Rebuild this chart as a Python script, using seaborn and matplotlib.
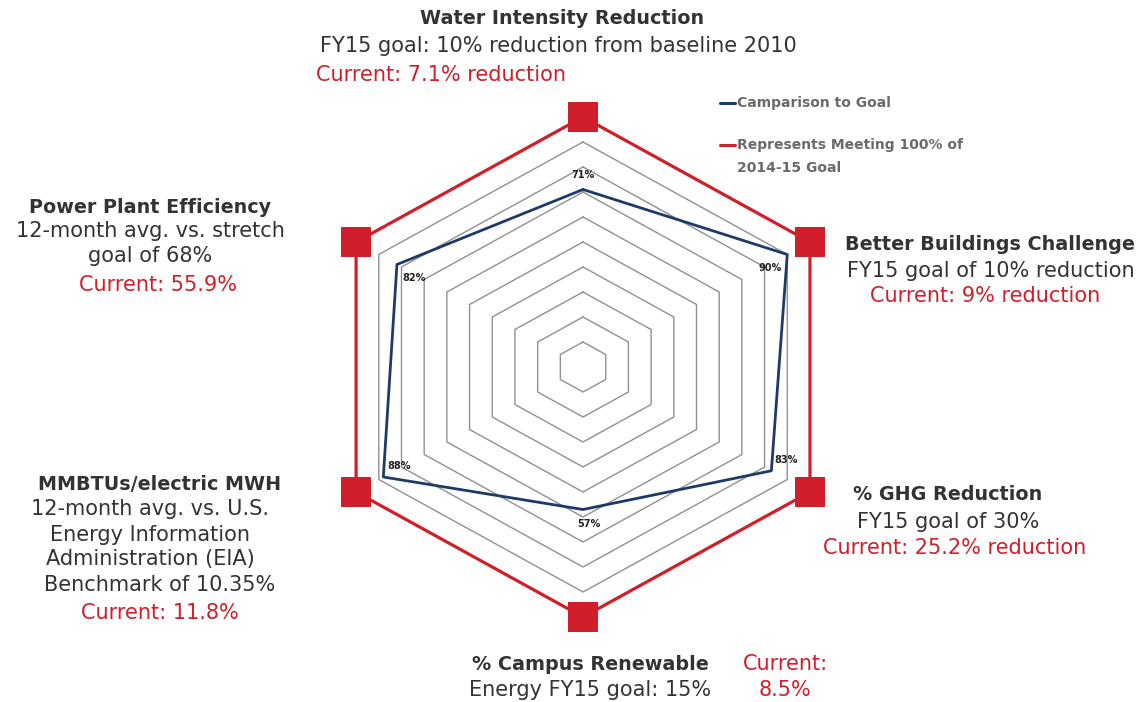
import numpy as np
import pandas as pd
import matplotlib.pyplot as plt
import seaborn as sns
from matplotlib.lines import Line2D

# clockwise from the top
metrics = ['Water Intensity Reduction', 'Better Buildings Challenge', '% GHG Reduction',
           '% Campus Renewable', 'MMBTUs/electric MWH', 'Power Plant Efficiency']
pct_of_goal = [71, 90, 83, 57, 88, 82]
goal = [100, 100, 100, 100, 100, 100]
ring_levels = [10, 20, 30, 40, 50, 60, 70, 80, 90]

RED = '#d01f2a'
BLUE = '#1f3a68'
GREY = '#333333'


def to_xy(values):
    n = len(values)
    ang = np.arange(n) * 2 * np.pi / n
    r = np.array(values, dtype=float) / 100.0
    x = np.append(r * np.sin(ang), r[0] * np.sin(ang[0]))
    y = np.append(r * np.cos(ang), r[0] * np.cos(ang[0]))
    return pd.DataFrame({'x': x, 'y': y, 'step': np.arange(n + 1)})


def main():
    sns.set_style("white")
    plt.rcParams['font.family'] = ['DejaVu Sans']

    fig = plt.figure(figsize=(11.43, 7.02), dpi=100)
    ax = fig.add_axes([0, 0, 1, 1])
    # centre of the web at about (583, 367) px
    ax.set_xlim(-2.225, 2.137)
    ax.set_ylim(-1.34, 1.468)
    ax.axis('off')

    n = len(metrics)
    for lvl in ring_levels:
        ring = to_xy([lvl] * n)
        sns.lineplot(data=ring, x='x', y='y', sort=False, estimator=None,
                     color='#909090', linewidth=1.0, ax=ax)

    outer = to_xy(goal)
    sns.lineplot(data=outer, x='x', y='y', sort=False, estimator=None,
                 color=RED, linewidth=2.3, ax=ax)
    sns.scatterplot(data=outer.iloc[:-1], x='x', y='y', marker='s', s=470,
                    color=RED, edgecolor=RED, linewidth=0, ax=ax, zorder=5)

    cur = to_xy(pct_of_goal)
    sns.lineplot(data=cur, x='x', y='y', sort=False, estimator=None,
                 color=BLUE, linewidth=2.0, ax=ax, zorder=4)

    # value labels next to the vertices
    offsets = [(0, 7, 'center', 'bottom'), (-4, -6, 'right', 'top'),
               (2, 4, 'left', 'bottom'), (4, -7, 'center', 'top'),
               (3, 4, 'left', 'bottom'), (4, -6, 'left', 'top')]
    for i, v in enumerate(pct_of_goal):
        dx, dy, ha, va = offsets[i]
        ax.annotate(f'{v}%', (cur.x[i], cur.y[i]), xytext=(dx, dy),
                    textcoords='offset points', ha=ha, va=va, fontsize=7,
                    fontweight='bold', color='#222222')

    W, H = 1143.0, 702.0

    def t(x, y, s, color=GREY, bold=False, ha='center', size=15):
        fig.text(x / W, 1 - y / H, s, ha=ha, va='center', color=color,
                 fontsize=size, fontweight='bold' if bold else 'normal')

    hb = 13.8
    # top
    t(562, 18, 'Water Intensity Reduction', bold=True, size=hb)
    t(558, 46, 'FY15 goal: 10% reduction from baseline 2010')
    t(316, 75, 'Current: 7.1% reduction', color=RED, ha='left')
    # upper left
    t(150, 207, 'Power Plant Efficiency', bold=True, size=hb)
    t(150, 231, '12-month avg. vs. stretch')
    t(150, 256, 'goal of 68%')
    t(158, 285, 'Current: 55.9%', color=RED)
    # upper right
    t(845, 244, 'Better Buildings Challenge', bold=True, ha='left', size=hb)
    t(991, 271, 'FY15 goal of 10% reduction')
    t(985, 296, 'Current: 9% reduction', color=RED)
    # lower left
    t(160, 485, 'MMBTUs/electric MWH', bold=True, size=hb)
    t(150, 509, '12-month avg. vs. U.S.')
    t(150, 535, 'Energy Information')
    t(150, 559, 'Administration (EIA)')
    t(160, 585, 'Benchmark of 10.35%')
    t(160, 613, 'Current: 11.8%', color=RED)
    # lower right
    t(948, 495, '% GHG Reduction', bold=True, size=hb)
    t(948, 522, 'FY15 goal of 30%')
    t(955, 548, 'Current: 25.2% reduction', color=RED)
    # bottom
    t(590, 664, '% Campus Renewable', bold=True, size=hb)
    t(590, 690, 'Energy FY15 goal: 15%')
    t(785, 664, 'Current:', color=RED)
    t(785, 690, '8.5%', color=RED)

    # legend
    for (y, col) in [(103, BLUE), (145, RED)]:
        fig.add_artist(Line2D([720 / W, 735 / W], [1 - y / H, 1 - y / H],
                              color=col, linewidth=2.2))
    leg = dict(color='#6a6a6a', bold=True, ha='left', size=10)
    t(737, 103, 'Camparison to Goal', **leg)
    t(737, 145, 'Represents Meeting 100% of', **leg)
    t(737, 168, '2014-15 Goal', **leg)

    fig.savefig('out.png', dpi=100)


if __name__ == '__main__':
    main()
